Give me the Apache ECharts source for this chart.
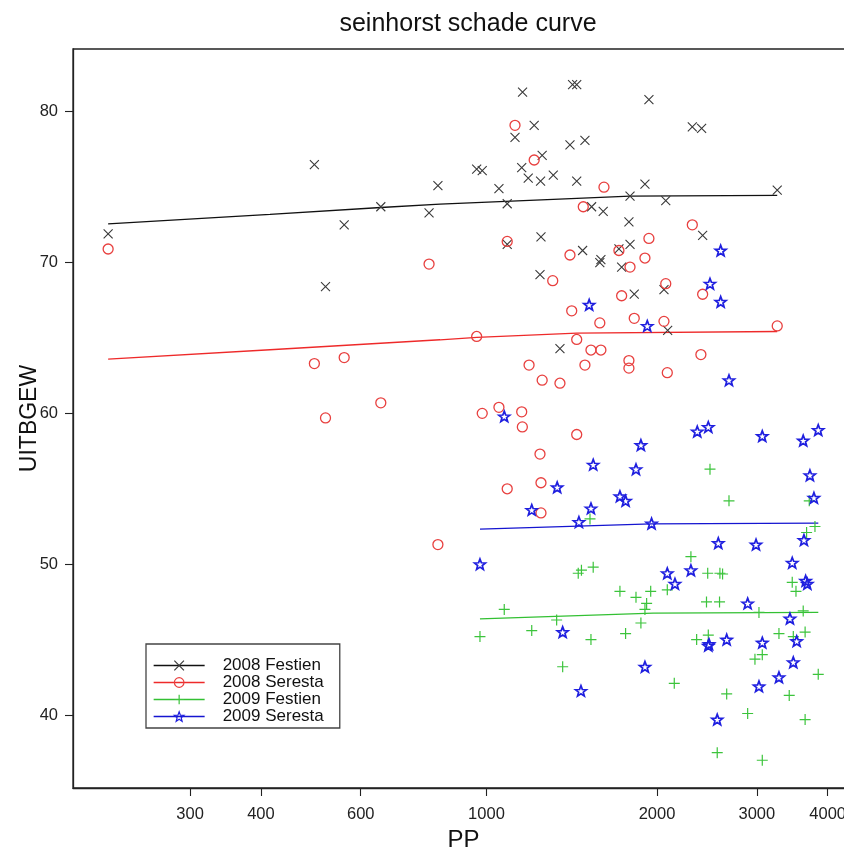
<!DOCTYPE html>
<html>
<head>
<meta charset="utf-8">
<script src="https://cdn.jsdelivr.net/npm/echarts@6/dist/echarts.min.js"></script>
<style>
html,body{margin:0;padding:0;background:#fff;}
#chart{width:844px;height:847px;}
</style>
</head>
<body>
<div id="chart"></div>
<script>
// ---- data (PP, UITBGEW) ----
const seriesNames = ['2008 Festien', '2008 Seresta', '2009 Festien', '2009 Seresta'];
const xTicks = [300, 400, 600, 1000, 2000, 3000, 4000];
const yTicks = [40, 50, 60, 70, 80];

const festien2008 = [
  [215,71.9],[497,76.5],[561,72.5],[520,68.4],[651,73.7],[792,73.3],[821,75.1],
  [1158,81.3],[1419,81.8],[1443,81.8],[1935,80.8],[1214,79.1],[1123,78.3],[1404,77.8],
  [1492,78.1],[2308,79.0],[2397,78.9],[1254,77.1],[961,76.2],[983,76.1],[1154,76.3],
  [1185,75.6],[1246,75.4],[1312,75.8],[1443,75.4],[1052,74.9],[1904,75.2],[3259,74.8],
  [1088,73.9],[1792,74.4],[2072,74.1],[1533,73.7],[1607,73.4],[1784,72.7],[2407,71.8],
  [1248,71.7],[1088,71.2],[1478,70.8],[1713,70.9],[1792,71.2],[1592,70.2],[1585,70.0],
  [1732,69.7],[2057,68.2],[1823,67.9],[1243,69.2],[2088,65.5],[1348,64.3]
];
const seresta2008 = [
  [215,70.9],[792,69.9],[497,63.3],[561,63.7],[651,60.7],[520,59.7],[821,51.3],
  [1123,79.1],[1214,76.8],[1612,75.0],[1482,73.7],[1088,71.4],[2308,72.5],[1935,71.6],
  [1404,70.5],[1713,70.8],[1904,70.3],[1792,69.7],[2072,68.6],[2407,67.9],[1309,68.8],
  [1732,67.8],[1414,66.8],[1585,66.0],[1823,66.3],[2057,66.1],[3259,65.8],[961,65.1],
  [1443,64.9],[1529,64.2],[1592,64.2],[2390,63.9],[1784,63.5],[1784,63.0],[1189,63.2],
  [1492,63.2],[2085,62.7],[1254,62.2],[1348,62.0],[983,60.0],[1052,60.4],[1154,60.1],
  [1157,59.1],[1443,58.6],[1243,57.3],[1248,55.4],[1088,55.0],[1248,53.4]
];
const festien2009 = [
  [2480,56.3],[2679,54.2],[3712,54.2],[1523,53.0],[3672,52.1],[3799,52.5],[2295,50.5],
  [1452,49.4],[1471,49.6],[1543,49.8],[2457,49.4],[2582,49.4],[2610,49.35],[3464,48.8],
  [3517,48.2],[1720,48.2],[1836,47.8],[1949,48.2],[2085,48.3],[1917,47.4],[1904,47.0],
  [2445,47.5],[2578,47.5],[1075,47.0],[3026,46.8],[3622,46.9],[1330,46.3],[1873,46.1],
  [974,45.2],[1202,45.6],[1529,45.0],[1760,45.4],[2349,45.0],[2463,45.3],[3282,45.4],
  [3479,45.2],[3650,45.5],[2977,43.7],[3067,44.0],[1363,43.2],[3850,42.7],[2145,42.1],
  [2654,41.4],[3422,41.3],[2890,40.1],[3650,39.7],[2554,37.5],[3067,37.0]
];
const seresta2009 = [
  [2590,70.8],[2480,68.6],[2590,67.4],[1518,67.2],[1922,65.8],[2679,62.2],[1075,59.8],
  [2355,58.8],[2463,59.1],[3067,58.5],[3622,58.2],[3850,58.9],[1873,57.9],[1543,56.6],
  [1836,56.3],[3722,55.9],[1333,55.1],[3783,54.4],[1720,54.5],[1760,54.2],[1202,53.6],
  [1529,53.7],[1456,52.8],[1956,52.7],[2565,51.4],[2990,51.3],[3633,51.6],[974,50.0],
  [3464,50.1],[2085,49.4],[2295,49.6],[2151,48.7],[3658,48.9],[3683,48.7],[2890,47.4],
  [3432,46.4],[1363,45.5],[2654,45.0],[2463,44.6],[2470,44.7],[3067,44.8],[3527,44.9],
  [3479,43.5],[1904,43.2],[3282,42.5],[3026,41.9],[1468,41.6],[2554,39.7]
];

// fitted curves
const curveFestien2008 = [[215,72.57],[415,73.19],[651,73.65],[828,73.88],[1250,74.15],[1792,74.40],[3259,74.45]];
const curveSeresta2008 = [[215,63.6],[415,64.22],[828,64.88],[962,65.04],[1443,65.32],[3259,65.43]];
const curveFestien2009 = [[974,46.37],[1969,46.75],[3851,46.8]];
const curveSeresta2009 = [[974,52.32],[1956,52.67],[3851,52.72]];

// ---- styling ----
const FONT = '"Liberation Sans", Arial, Helvetica, sans-serif';
const colors = ['#3a3a3a', '#e8403f', '#3cc43c', '#1f1fdf'];
const lineColors = ['#111111', '#ee2a2a', '#33c033', '#1515d0'];
const SYM_X = 'path://M0,0L10,10M10,0L0,10';
const SYM_PLUS = 'path://M5,0L5,10M0,5L10,5';
const SYM_STAR = 'path://M10,0L12.469,6.602L19.511,6.91L13.995,11.298L15.878,18.09L10,14.2L4.122,18.09L6.005,11.298L0.489,6.91L7.531,6.602Z';
const symbols = [SYM_X, 'circle', SYM_PLUS, SYM_STAR];
const symSizes = [9, 10, 11, [11, 10.5]];
const borderW = [1.1, 1.3, 1.2, 1.7];

const scatterData = [festien2008, seresta2008, festien2009, seresta2009];
const curveData = [curveFestien2008, curveSeresta2008, curveFestien2009, curveSeresta2009];

const series = [];
seriesNames.forEach((n, i) => {
  series.push({
    name: n, type: 'line', data: curveData[i],
    showSymbol: false, symbol: symbols[i], symbolSize: 10,
    lineStyle: {color: lineColors[i], width: 1.3},
    itemStyle: {color: 'rgba(0,0,0,0)', borderColor: colors[i], borderWidth: borderW[i]},
    silent: true, z: 2
  });
});
seriesNames.forEach((n, i) => {
  series.push({
    name: n, type: 'scatter', data: scatterData[i],
    symbol: symbols[i], symbolSize: symSizes[i],
    itemStyle: {color: 'rgba(0,0,0,0)', borderColor: colors[i], borderWidth: borderW[i], opacity: 1},
    silent: true, z: 3
  });
});

const chart = echarts.init(document.getElementById('chart'), null, {renderer: 'canvas'});
chart.setOption({
  animation: false,
  backgroundColor: '#fff',
  title: {
    text: 'seinhorst schade curve', left: 463, top: 7, textAlign: 'center',
    textStyle: {fontFamily: FONT, fontSize: 25, fontWeight: 'normal', color: '#111'}
  },
  legend: {
    data: seriesNames, orient: 'vertical', left: 146, top: 644,
    padding: [13, 16, 3, 7], itemWidth: 51, itemHeight: 12, itemGap: 0,
    selectedMode: false,
    textStyle: {fontFamily: FONT, fontSize: 17, color: '#111', lineHeight: 17, padding: [0, 0, 0, 13]},
    borderColor: '#444', borderWidth: 1.3, backgroundColor: '#fff',
    itemStyle: {borderWidth: 1.2},
    lineStyle: {width: 1.3}
  },
  grid: {
    left: 73, right: -10, top: 49, bottom: 59,
    show: true, borderColor: '#222', borderWidth: 1.3, backgroundColor: 'transparent',
    containLabel: false, outerBoundsMode: 'none'
  },
  xAxis: {
    type: 'log', logBase: 10, min: 186.4, max: 4452,
    name: 'PP', nameLocation: 'middle', nameGap: 36,
    nameTextStyle: {fontFamily: FONT, fontSize: 24, color: '#111'},
    axisLine: {show: true, onZero: false, lineStyle: {color: '#222', width: 1.3}},
    axisTick: {show: true, length: 8, lineStyle: {color: '#222', width: 1.1}, customValues: xTicks},
    axisLabel: {show: true, margin: 18, fontFamily: FONT, fontSize: 16.5, color: '#222',
      customValues: xTicks, formatter: v => String(Math.round(v))},
    splitLine: {show: false}, minorTick: {show: false}, minorSplitLine: {show: false}
  },
  yAxis: {
    type: 'value', min: 35.16, max: 84.16,
    name: 'UITBGEW', nameLocation: 'middle', nameGap: 32, nameMoveOverlap: false,
    nameTextStyle: {fontFamily: FONT, fontSize: 23, color: '#111'},
    axisLine: {show: true, onZero: false, lineStyle: {color: '#222', width: 1.3}},
    axisTick: {show: true, length: 8, lineStyle: {color: '#222', width: 1.1}, customValues: yTicks},
    axisLabel: {show: true, margin: 15, fontFamily: FONT, fontSize: 16.5, color: '#222',
      customValues: yTicks, formatter: v => String(v)},
    splitLine: {show: false}
  },
  series: series
});
</script>
</body>
</html>
